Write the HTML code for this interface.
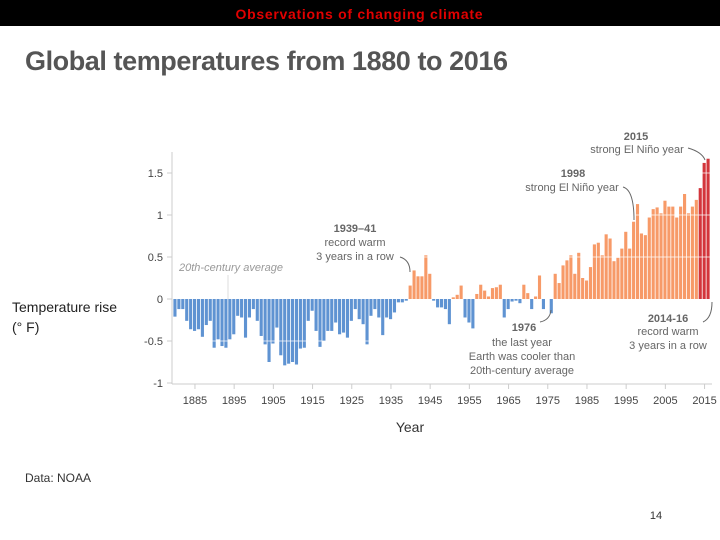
<!DOCTYPE html>
<html><head><meta charset="utf-8"><style>
body{margin:0;width:720px;height:540px;background:#fff;overflow:hidden;font-family:"Liberation Sans",sans-serif}
svg{position:absolute;left:0;top:0}
</style></head><body>
<svg width="720" height="540">
<rect x="0" y="0" width="720" height="26" fill="#000"/>
<text x="359" y="19" text-anchor="middle" fill="#e00000" font-size="14" font-weight="bold" textLength="247">Observations of changing climate</text>
<text x="25" y="70" fill="#555" font-size="27" font-weight="bold" textLength="483">Global temperatures from 1880 to 2016</text>
<g id="chart"></g>
<text x="12" y="312" fill="#222" font-size="14">Temperature rise</text>
<text x="12" y="332" fill="#222" font-size="14">(° F)</text>
<text x="410" y="432" text-anchor="middle" fill="#333" font-size="14">Year</text>
<text x="25" y="482" fill="#333" font-size="12">Data: NOAA</text>
<text x="656" y="519" text-anchor="middle" fill="#333" font-size="11">14</text>
</svg>
<script>
const startYear = 1880;
const values = [-0.21,-0.12,-0.12,-0.26,-0.36,-0.38,-0.36,-0.45,-0.31,-0.26,
-0.58,-0.48,-0.56,-0.58,-0.48,-0.42,-0.2,-0.22,-0.46,-0.22,
-0.12,-0.26,-0.44,-0.54,-0.75,-0.53,-0.34,-0.67,-0.79,-0.77,
-0.75,-0.78,-0.59,-0.58,-0.26,-0.14,-0.38,-0.57,-0.5,-0.38,
-0.38,-0.28,-0.42,-0.4,-0.46,-0.26,-0.12,-0.24,-0.3,-0.54,
-0.2,-0.12,-0.22,-0.43,-0.22,-0.24,-0.16,-0.04,-0.04,-0.02,
0.16,0.34,0.27,0.27,0.52,0.3,-0.02,-0.1,-0.1,-0.12,
-0.3,0.02,0.05,0.16,-0.22,-0.28,-0.35,0.06,0.17,0.1,
0.03,0.13,0.14,0.17,-0.22,-0.12,-0.03,-0.02,-0.05,0.17,
0.07,-0.12,0.03,0.28,-0.12,0.0,-0.17,0.3,0.19,0.4,
0.46,0.52,0.3,0.55,0.25,0.22,0.38,0.65,0.67,0.52,
0.77,0.72,0.45,0.49,0.6,0.8,0.6,0.92,1.13,0.78,
0.76,0.97,1.07,1.09,1.02,1.17,1.1,1.1,0.97,1.1,
1.25,1.02,1.1,1.18,1.32,1.62,1.67];
const yTicks = [1.5,1,0.5,0,-0.5,-1];
const yTickLabels = ["1.5","1","0.5","0","-0.5","-1"];
const xTicks = [1885,1895,1905,1915,1925,1935,1945,1955,1965,1975,1985,1995,2005,2015];
const NS="http://www.w3.org/2000/svg";
const g=document.getElementById('chart');
const bw=3.92;
function x(yr){return 173.4+(yr-1880)*bw;}
function y(v){return 299-v*84;}
function mk(t,a,p){const e=document.createElementNS(NS,t);for(const k in a)e.setAttribute(k,a[k]);(p||g).appendChild(e);return e;}
values.forEach((v,i)=>{
 const yr=startYear+i;
 const col=v<0?'#5f93d2':(yr>=2014?'#d3353b':'#f79a68');
 const r=mk('rect',{x:x(yr),y:Math.min(y(v),y(0)),width:bw-0.8,height:Math.abs(y(v)-y(0)),fill:col});
 
 
});
[0.5,1,1.5,-0.5].forEach(v=>{mk('line',{x1:173,x2:712,y1:y(v),y2:y(v),stroke:'#fff','stroke-width':1,opacity:0.7});});
const ax=mk('line',{x1:172,x2:172,y1:152,y2:384,stroke:'#ccc'});


const bx=mk('line',{x1:172,x2:712,y1:384,y2:384,stroke:'#ccc'});


yTicks.forEach((v,i)=>{
 mk('line',{x1:167,x2:172,y1:y(v),y2:y(v),stroke:'#ccc'});
 const t=mk('text',{x:163,y:y(v)+4,'text-anchor':'end','font-size':11,fill:'#444'});
 t.textContent=yTickLabels[i];
 
 
});
xTicks.forEach(yr=>{
 const cx=x(yr)+bw/2;
 mk('line',{x1:cx,x2:cx,y1:384,y2:389,stroke:'#ccc'});
 const t=mk('text',{x:cx,y:404,'text-anchor':'middle','font-size':11,fill:'#444'});
 t.textContent=yr;
 
 
});
mk('line',{x1:228,x2:228,y1:275,y2:299,stroke:'#ddd'});
function txt(s,xx,yy,o){const t=mk('text',Object.assign({x:xx,y:yy,'font-size':11,fill:'#666','text-anchor':'middle'},o||{}));t.textContent=s;return t;}
txt('20th-century average',231,271,{'font-style':'italic',fill:'#999'});
txt('1939–41',355,232,{'font-weight':'bold'});
txt('record warm',355,246);txt('3 years in a row',355,260);
txt('1998',573,177,{'font-weight':'bold'});txt('strong El Niño year',572,191);
txt('2015',636,140,{'font-weight':'bold'});txt('strong El Niño year',637,153);
txt('2014-16',668,322,{'font-weight':'bold'});txt('record warm',668,335);txt('3 years in a row',668,349);
txt('1976',524,331,{'font-weight':'bold'});txt('the last year',522,346);txt('Earth was cooler than',522,360);txt('20th-century average',522,374);
function arr(d){mk('path',{d:d,stroke:'#666',fill:'none','stroke-width':1});}
arr('M400 257 Q410 260 410 272');arr('M623 187 Q634 190 634 220');arr('M688 148 Q702 152 705 160');
arr('M703 322 Q712 318 712 302');arr('M540 322 Q550 320 551 310');
</script>
</body></html>
